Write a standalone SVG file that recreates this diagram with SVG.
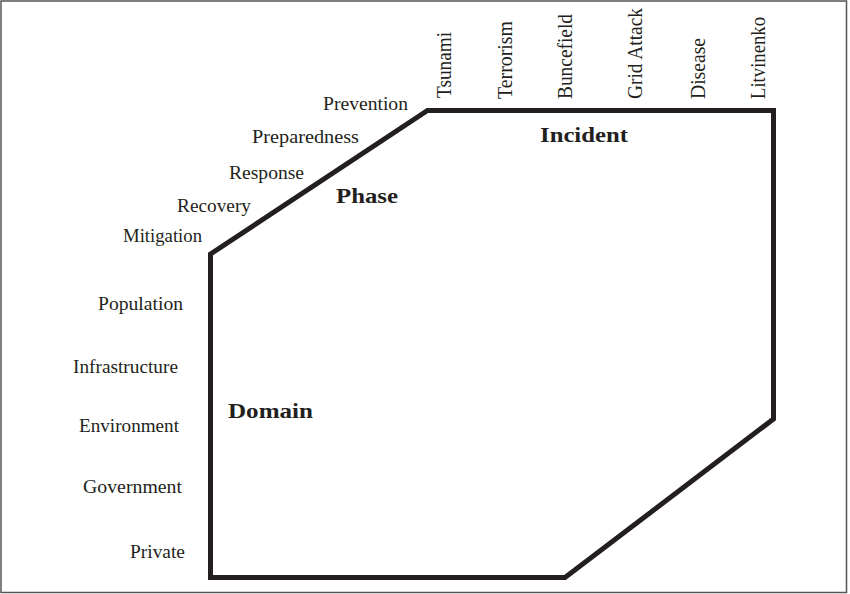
<svg xmlns="http://www.w3.org/2000/svg" width="850" height="594" viewBox="0 0 850 594">
<style>
.lbl{font-family:"Liberation Serif","Times New Roman",serif;font-size:19px;fill:#231f20;}
.rot{font-family:"Liberation Serif","Times New Roman",serif;font-size:21px;fill:#231f20;}
.ttl{font-family:"Liberation Serif","Times New Roman",serif;font-size:21px;font-weight:bold;fill:#231f20;}
.shape{fill:none;stroke:#231f20;stroke-width:5;stroke-linejoin:miter;}
</style>
<rect x="1" y="1" width="845.5" height="591.5" fill="#ffffff" stroke="#555555" stroke-width="1.5"/>
<g id="connectors">
<polygon class="shape" points="210.5,254 427.5,110.5 773.5,110.5 773.5,419 565,577.5 210.5,577.5"/>
</g>
<g id="phase">
<text class="lbl" x="323" y="110" textLength="85" lengthAdjust="spacingAndGlyphs">Prevention</text>
<text class="lbl" x="252" y="143" textLength="107" lengthAdjust="spacingAndGlyphs">Preparedness</text>
<text class="lbl" x="229" y="179" textLength="75" lengthAdjust="spacingAndGlyphs">Response</text>
<text class="lbl" x="177" y="212" textLength="74" lengthAdjust="spacingAndGlyphs">Recovery</text>
<text class="lbl" x="123" y="242" textLength="79" lengthAdjust="spacingAndGlyphs">Mitigation</text>
<text class="ttl" x="336" y="203" textLength="62" lengthAdjust="spacingAndGlyphs">Phase</text>
</g>
<g id="domain">
<text class="lbl" x="98" y="310" textLength="85" lengthAdjust="spacingAndGlyphs">Population</text>
<text class="lbl" x="73" y="373" textLength="105" lengthAdjust="spacingAndGlyphs">Infrastructure</text>
<text class="lbl" x="79" y="432" textLength="100" lengthAdjust="spacingAndGlyphs">Environment</text>
<text class="lbl" x="83" y="493" textLength="99" lengthAdjust="spacingAndGlyphs">Government</text>
<text class="lbl" x="130" y="558" textLength="55" lengthAdjust="spacingAndGlyphs">Private</text>
<text class="ttl" x="228" y="418" textLength="85" lengthAdjust="spacingAndGlyphs">Domain</text>
</g>
<g id="incident">
<text class="rot" transform="translate(451,98) rotate(-90)" x="0" y="0" textLength="66" lengthAdjust="spacingAndGlyphs">Tsunami</text>
<text class="rot" transform="translate(512,99) rotate(-90)" x="0" y="0" textLength="78" lengthAdjust="spacingAndGlyphs">Terrorism</text>
<text class="rot" transform="translate(571.5,99) rotate(-90)" x="0" y="0" textLength="85" lengthAdjust="spacingAndGlyphs">Buncefield</text>
<text class="rot" transform="translate(641.5,99) rotate(-90)" x="0" y="0" textLength="91" lengthAdjust="spacingAndGlyphs">Grid Attack</text>
<text class="rot" transform="translate(705,99) rotate(-90)" x="0" y="0" textLength="61" lengthAdjust="spacingAndGlyphs">Disease</text>
<text class="rot" transform="translate(765,99) rotate(-90)" x="0" y="0" textLength="82" lengthAdjust="spacingAndGlyphs">Litvinenko</text>
<text class="ttl" x="540" y="142" textLength="88" lengthAdjust="spacingAndGlyphs">Incident</text>
</g>
</svg>
